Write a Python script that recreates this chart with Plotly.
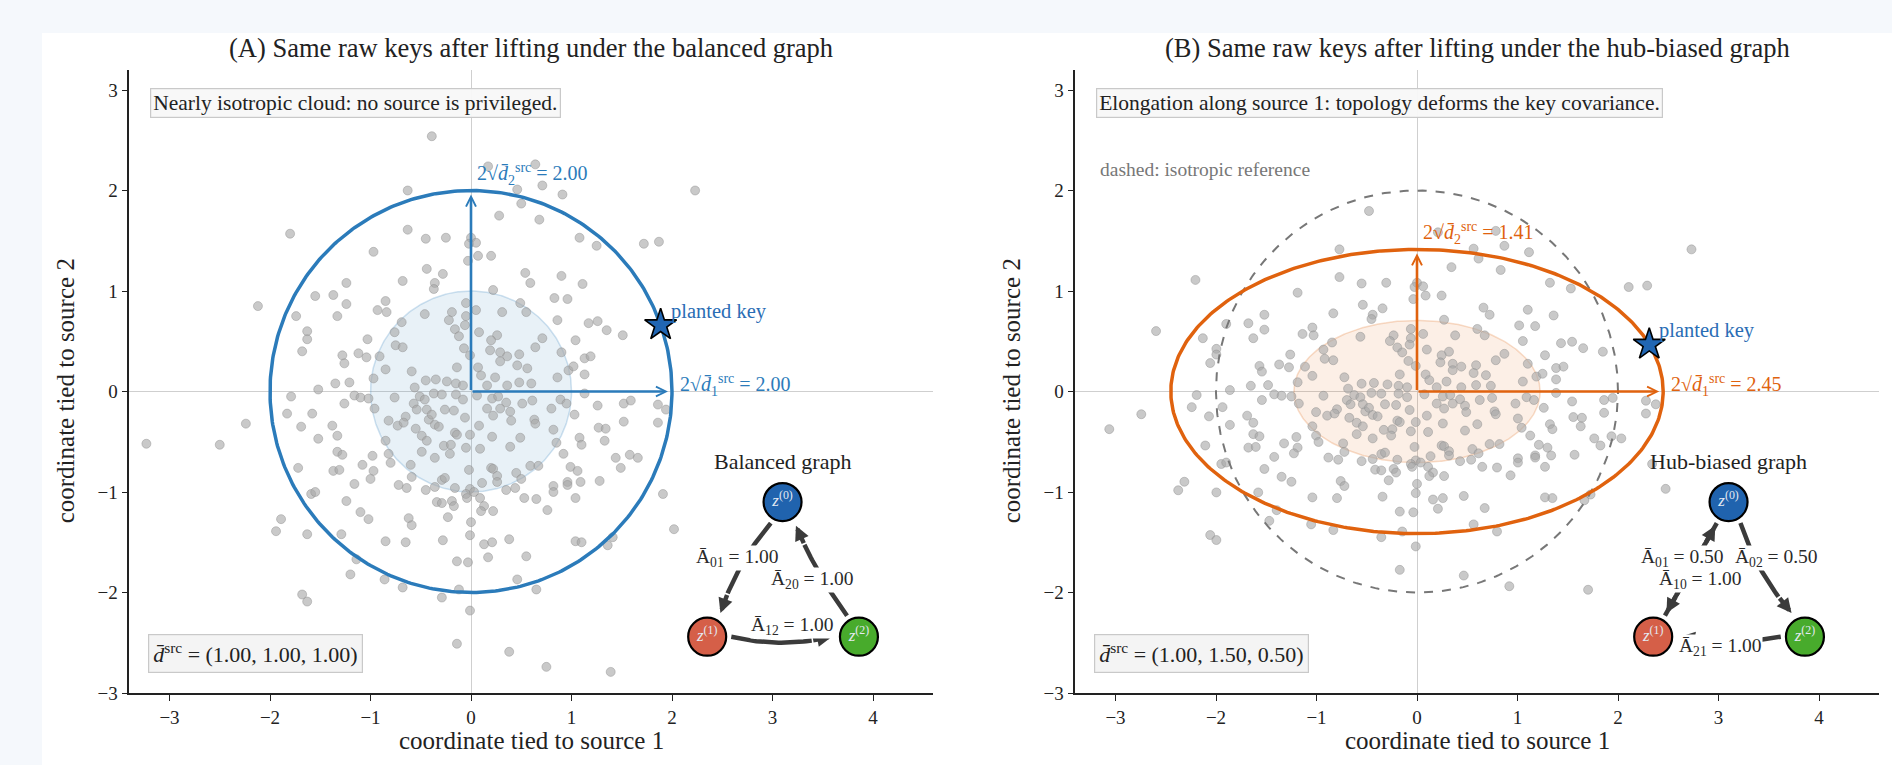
import numpy as np
import plotly.graph_objects as go

# ---------------- data ----------------
# raw keys (coordinate tied to source 1, coordinate tied to source 2) as shown under the balanced graph
raw_keys = [
    (-0.39, 2.54), (-0.63, 2.00), (-1.80, 1.57), (-0.63, 1.61), (-0.45, 1.52), (-0.97, 1.39), (-0.44, 1.22),
    (-0.68, 1.10), (-1.24, 1.08), (-1.55, 0.95), (-1.37, 0.96), (-1.24, 0.87), (-0.85, 0.90), (-0.93, 0.81),
    (-0.84, 0.79), (-2.12, 0.85), (-1.74, 0.75), (-1.33, 0.75), (-0.46, 0.77), (-0.69, 0.69), (-0.76, 0.59),
    (-1.63, 0.60), (-1.63, 0.52), (-1.03, 0.52), (-1.68, 0.40), (-0.75, 0.46), (-0.68, 0.44), (-1.28, 0.36),
    (-1.12, 0.38), (-1.04, 0.34), (-0.91, 0.35), (-1.26, 0.28), (-0.85, 0.22), (-0.59, 0.20), (-0.97, 0.13),
    (-1.35, 0.08), (-1.21, 0.09), (-1.52, 0.02), (-0.56, 0.04),
    (0.17, 2.24), (0.64, 2.26), (0.46, 2.01), (0.71, 2.05), (0.91, 1.96), (0.50, 1.87), (2.23, 2.00),
    (0.28, 1.75), (0.68, 1.71), (-0.25, 1.53), (0.00, 1.53), (-0.02, 1.47), (0.05, 1.48), (1.08, 1.53),
    (1.25, 1.45), (1.72, 1.47), (1.87, 1.49), (0.07, 1.35), (-0.03, 1.30), (0.20, 1.35), (-0.28, 1.17),
    (0.54, 1.18), (0.59, 1.08), (0.90, 1.15), (1.11, 1.07), (-0.36, 1.08), (-0.37, 1.02), (0.22, 1.01),
    (0.49, 0.88), (0.83, 0.93), (0.96, 0.92), (-0.05, 0.88), (0.05, 0.81), (-0.19, 0.79), (0.31, 0.79),
    (0.55, 0.79), (-0.05, 0.75), (-0.22, 0.71), (0.86, 0.71), (1.17, 0.68), (1.26, 0.70), (1.35, 0.61),
    (1.51, 0.56), (-0.16, 0.62), (-0.06, 0.66), (0.08, 0.59), (0.26, 0.56), (0.20, 0.51), (-0.12, 0.55),
    (0.71, 0.53), (1.04, 0.51), (-0.07, 0.43), (0.19, 0.41), (0.29, 0.39), (0.36, 0.35), (0.48, 0.37),
    (0.64, 0.44), (0.90, 0.39), (-0.01, 0.36), (-0.14, 0.24), (0.07, 0.24), (0.29, 0.30), (0.46, 0.26),
    (0.56, 0.23), (0.97, 0.21), (1.02, 0.25), (1.13, 0.33), (1.19, 0.35), (1.13, 0.17), (-0.24, 0.10),
    (-0.15, 0.08), (0.10, 0.16), (0.24, 0.14), (0.48, 0.09), (0.86, 0.14), (-0.08, 0.06), (0.16, 0.06),
    (0.36, 0.06), (0.60, 0.08), (-0.45, 0.11), (-0.35, 0.12),
    (-1.79, -0.05), (-1.26, -0.12), (-1.16, -0.04), (-1.10, -0.06), (-1.02, -0.07), (-0.76, -0.06),
    (-0.96, -0.17), (-0.51, -0.05), (-0.46, -0.08), (-0.57, -0.12), (-0.54, -0.18), (-0.65, -0.25),
    (-0.82, -0.29), (-0.73, -0.34), (-0.67, -0.31), (-0.42, -0.28), (-1.83, -0.22), (-1.58, -0.22),
    (-2.24, -0.32), (-1.69, -0.35), (-1.38, -0.34), (-1.52, -0.47), (-1.33, -0.44), (-0.55, -0.37),
    (-0.49, -0.44), (-0.44, -0.49), (-0.85, -0.49), (-3.23, -0.52), (-2.50, -0.53), (-1.33, -0.60),
    (-1.28, -0.63), (-0.98, -0.64), (-0.82, -0.62), (-0.49, -0.60), (-1.08, -0.73), (-0.80, -0.71),
    (-0.60, -0.73), (-1.72, -0.76), (-1.37, -0.79), (-1.31, -0.78), (-0.97, -0.79), (-1.00, -0.87),
    (-0.59, -0.85), (-1.16, -0.92), (-0.72, -0.93), (-0.64, -0.96), (-0.45, -0.98), (-1.59, -1.02),
    (-1.55, -1.00), (-1.24, -1.09), (-1.10, -1.20), (-1.02, -1.27), (-0.62, -1.26), (-0.59, -1.33),
    (-1.89, -1.27), (-1.94, -1.39), (-1.63, -1.42), (-1.29, -1.42), (-0.85, -1.49), (-0.65, -1.50),
    (-1.14, -1.67), (-1.20, -1.82), (-0.86, -1.87), (-0.68, -1.95), (-1.68, -2.02), (-1.63, -2.09),
    (-0.37, -0.02), (-0.29, -0.03), (-0.15, -0.03), (-0.08, -0.08), (0.06, -0.04), (0.21, -0.07),
    (0.27, -0.05), (0.35, -0.11), (0.51, -0.12), (0.61, -0.09), (0.89, -0.08), (0.95, -0.12), (1.13, -0.02),
    (1.26, -0.14), (1.52, -0.12), (1.59, -0.09), (1.86, -0.13), (1.94, -0.18), (-0.44, -0.18), (-0.26, -0.18),
    (-0.17, -0.19), (-0.39, -0.23), (-0.06, -0.26), (0.16, -0.17), (0.22, -0.24), (0.29, -0.17), (0.39, -0.20),
    (0.40, -0.29), (0.63, -0.28), (0.64, -0.32), (0.80, -0.17), (1.03, -0.23), (1.52, -0.30), (1.86, -0.31),
    (-0.36, -0.33), (-0.32, -0.35), (0.08, -0.34), (0.82, -0.38), (1.27, -0.36), (1.34, -0.37), (-0.16, -0.41),
    (-0.14, -0.43), (-0.01, -0.43), (0.21, -0.45), (0.49, -0.46), (1.08, -0.46), (-0.27, -0.54), (-0.20, -0.53),
    (-0.05, -0.56), (0.09, -0.57), (0.39, -0.55), (0.85, -0.51), (1.10, -0.53), (1.33, -0.49), (-0.21, -0.62),
    (-0.36, -0.66), (0.92, -0.62), (1.44, -0.66), (1.58, -0.63), (1.66, -0.66), (0.20, -0.76), (0.22, -0.77),
    (0.59, -0.74), (0.67, -0.74), (0.99, -0.75), (1.06, -0.79), (1.49, -0.76), (-0.02, -0.78), (0.26, -0.84),
    (0.45, -0.81), (-0.29, -0.88), (-0.26, -0.86), (0.26, -0.90), (0.11, -0.91), (0.50, -0.87), (0.96, -0.90),
    (0.96, -0.93), (1.09, -0.90), (1.28, -0.89), (-0.36, -0.95), (-0.16, -0.96), (-0.01, -0.97), (0.35, -0.98),
    (0.44, -0.96), (0.82, -0.94), (0.82, -1.00), (1.91, -1.02), (-0.05, -1.02), (0.03, -1.00), (-0.34, -1.10),
    (-0.29, -1.11), (-0.19, -1.09), (-0.17, -1.14), (-0.04, -1.06), (0.09, -1.06), (0.13, -1.14), (0.10, -1.19),
    (0.22, -1.19), (0.53, -1.06), (0.65, -1.07), (1.04, -1.06), (0.76, -1.18), (-0.23, -1.25), (0.00, -1.30),
    (-0.01, -1.43), (-0.28, -1.48), (0.13, -1.52), (0.21, -1.50), (0.38, -1.47), (1.04, -1.49), (1.10, -1.50),
    (1.36, -1.53), (1.41, -1.45), (2.02, -1.37), (0.17, -1.65), (0.55, -1.64), (-0.14, -1.69), (-0.03, -1.70),
    (0.46, -1.87), (0.65, -1.97), (-0.12, -1.97), (-0.29, -2.05), (-0.01, -2.18), (-0.14, -2.51), (0.38, -2.59),
    (0.75, -2.74), (1.39, -2.79),
]
raw_src1 = [p[0] for p in raw_keys]
raw_src2 = [p[1] for p in raw_keys]
planted_key = [1.887, 0.661]

d_balanced = [1.00, 1.00, 1.00]
d_hub = [1.00, 1.50, 0.50]

# directed edges (from, to, weight)
balanced_edges = [(0, 1, 1.00), (1, 2, 1.00), (2, 0, 1.00)]
hub_edges = [(0, 1, 0.50), (1, 0, 1.00), (0, 2, 0.50), (2, 1, 1.00)]

x_ticks = [-3, -2, -1, 0, 1, 2, 3, 4]
y_ticks = [-3, -2, -1, 0, 1, 2, 3]
panel_titles = ["(A) Same raw keys after lifting under the balanced graph",
                "(B) Same raw keys after lifting under the hub-biased graph"]
panel_notes = ["Nearly isotropic cloud: no source is privileged.",
               "Elongation along source 1: topology deforms the key covariance."]
graph_names = ["Balanced graph", "Hub-biased graph"]
x_label = "coordinate tied to source 1"
y_label = "coordinate tied to source 2"

# ---------------- layout / style ----------------
W, H = 1892, 765
FONT = "Liberation Serif"
X_RANGE = [-3.4, 4.6]
Y_RANGE = [-3.0, 3.2]
AX_LEFT = [129.3, 1075.3]
AX_WIDTH = 804.0
AX_TOP, AX_BOT = 69.9, 693.0
MAIN_COL = ["#2b7bba", "#e0620e"]
FILL_COL = ["rgba(43,123,186,0.11)", "rgba(224,98,14,0.10)"]
FILL_EDGE = ["rgba(43,123,186,0.22)", "rgba(224,98,14,0.22)"]
STAR_COL = "#2166b3"
KEY_TXT = "#2a6db5"
NODE_POS = {0: (3.10, -1.10), 1: (2.35, -2.44), 2: (3.86, -2.44)}
NODE_COL = {0: "#2063ae", 1: "#d55f48", 2: "#48ab2c"}
EDGE_BEND = [{(0, 1): 0.10, (1, 2): 0.12, (2, 0): -0.06},
             {(0, 1): 0.0, (1, 0): 0.0, (0, 2): 0.10, (2, 1): -0.10}]
EDGE_LABEL_POS = [{(0, 1): (2.65, -1.66), (1, 2): (3.20, -2.33), (2, 0): (3.40, -1.88)},
                  {(0, 1): (2.64, -1.66), (1, 0): (2.82, -1.88), (0, 2): (3.58, -1.66), (2, 1): (3.02, -2.54)}]
EDGE_COL = "#3b3b3b"
TXT = "#222222"

fig = go.Figure()
annotations = []
shapes = [dict(type="rect", xref="paper", yref="paper", x0=42 / W, x1=1.0, y0=0.0, y1=1 - 33 / H,
               fillcolor="white", line=dict(width=0), layer="below")]

th = np.linspace(0, 2 * np.pi, 400)

for k, (d, edges) in enumerate([(d_balanced, balanced_edges), (d_hub, hub_edges)]):
    xa, ya = ("x", "y") if k == 0 else ("x2", "y2")
    s1, s2 = np.sqrt(d[1]), np.sqrt(d[2])
    px = np.array(raw_src1) * s1
    py = np.array(raw_src2) * s2
    common = dict(xaxis=xa, yaxis=ya, hoverinfo="skip", showlegend=False)

    # 1-sigma shaded ellipse
    fig.add_trace(go.Scatter(x=s1 * np.cos(th), y=s2 * np.sin(th), mode="lines", fill="toself",
                             fillcolor=FILL_COL[k], line=dict(color=FILL_EDGE[k], width=1.5), **common))
    # key cloud
    fig.add_trace(go.Scatter(x=px, y=py, mode="markers",
                             marker=dict(size=9, color="rgba(168,168,168,0.62)",
                                         line=dict(color="rgba(140,140,140,0.55)", width=0.8)), **common))
    # isotropic dashed reference
    if k == 1:
        r1, r2 = 2 * np.sqrt(d_balanced[1]), 2 * np.sqrt(d_balanced[2])
        fig.add_trace(go.Scatter(x=r1 * np.cos(th), y=r2 * np.sin(th), mode="lines",
                                 line=dict(color="#777777", width=2, dash="dash"), **common))
        annotations.append(dict(x=-3.17, y=2.21, xref=xa, yref=ya, text="dashed: isotropic reference",
                                showarrow=False, xanchor="left", yanchor="middle",
                                font=dict(family=FONT, size=19.5, color="#777777")))
    # 2-sigma ellipse
    fig.add_trace(go.Scatter(x=2 * s1 * np.cos(th), y=2 * s2 * np.sin(th), mode="lines",
                             line=dict(color=MAIN_COL[k], width=3.5), **common))
    # axis arrows
    for (tx, ty) in [(2 * s1, 0.0), (0.0, 2 * s2)]:
        annotations.append(dict(x=tx, y=ty, ax=0, ay=0, xref=xa, yref=ya, axref=xa, ayref=ya, text="",
                                showarrow=True, arrowhead=5, arrowsize=0.75, arrowwidth=2.6,
                                arrowcolor=MAIN_COL[k], standoff=4))
    annotations.append(dict(x=0.04, y=2 * s2 + 0.16, xref=xa, yref=ya, showarrow=False,
                            xanchor="left", yanchor="middle",
                            text=f"2√<i>d̄</i><sub>2</sub><sup>src</sup> = {2 * s2:.2f}",
                            font=dict(family=FONT, size=20, color=MAIN_COL[k])))
    annotations.append(dict(x=2 * s1 + 0.06, y=0.06, xref=xa, yref=ya, showarrow=False,
                            xanchor="left", yanchor="middle",
                            text=f"2√<i>d̄</i><sub>1</sub><sup>src</sup> = {2 * s1:.2f}",
                            font=dict(family=FONT, size=20, color=MAIN_COL[k])))
    # planted key
    kx, ky = planted_key[0] * s1, planted_key[1] * s2
    fig.add_trace(go.Scatter(x=[kx], y=[ky], mode="markers",
                             marker=dict(symbol="star", size=24, color=STAR_COL,
                                         line=dict(color="black", width=1.6)), **common))
    annotations.append(dict(x=kx + 0.08, y=ky + 0.14, xref=xa, yref=ya, text="planted key", showarrow=False,
                            xanchor="left", yanchor="middle", font=dict(family=FONT, size=20.5, color=KEY_TXT)))
    # text boxes
    annotations.append(dict(x=-3.19, y=2.87, xref=xa, yref=ya, text=panel_notes[k], showarrow=False,
                            xanchor="left", yanchor="middle", bgcolor="rgba(248,248,248,0.95)",
                            bordercolor="#c9c9c9", borderwidth=1.2, borderpad=2,
                            font=dict(family=FONT, size=21.5, color=TXT)))
    annotations.append(dict(x=-3.21, y=-2.61, xref=xa, yref=ya, showarrow=False,
                            text="<i>d̄</i><sup>src</sup> = (" + ", ".join(f"{v:.2f}" for v in d) + ")",
                            xanchor="left", yanchor="middle", bgcolor="rgba(243,243,243,0.95)",
                            bordercolor="#c9c9c9", borderwidth=1.2, borderpad=4,
                            font=dict(family=FONT, size=22, color=TXT)))

    # ---- graph inset ----
    annotations.append(dict(x=NODE_POS[0][0], y=-0.70, xref=xa, yref=ya, text=graph_names[k], showarrow=False,
                            xanchor="center", yanchor="middle", font=dict(family=FONT, size=22, color=TXT)))
    for (i, j, w) in edges:
        p0 = np.array(NODE_POS[i]); p2 = np.array(NODE_POS[j])
        u = (p2 - p0) / np.linalg.norm(p2 - p0)
        s = p0 + u * 0.24
        e = p2 - u * 0.27
        L = np.linalg.norm(e - s)
        perp = np.array([u[1], -u[0]])
        c = (s + e) / 2 + EDGE_BEND[k][(i, j)] * L * perp
        t = np.linspace(0, 0.8, 30)[:, None]
        curve = (1 - t) ** 2 * s + 2 * (1 - t) * t * c + t ** 2 * e
        fig.add_trace(go.Scatter(x=curve[:, 0], y=curve[:, 1], mode="lines",
                                 line=dict(color=EDGE_COL, width=4.5), **common))
        annotations.append(dict(x=e[0], y=e[1], ax=curve[-1, 0], ay=curve[-1, 1], xref=xa, yref=ya,
                                axref=xa, ayref=ya, text="", showarrow=True, arrowhead=2, arrowsize=0.65,
                                arrowwidth=4.5, arrowcolor=EDGE_COL, standoff=0))
        lx, ly = EDGE_LABEL_POS[k][(i, j)]
        annotations.append(dict(x=lx, y=ly, xref=xa, yref=ya, showarrow=False, bgcolor="white", borderpad=0,
                                text=f"Ā<sub>{i}{j}</sub> = {w:.2f}",
                                font=dict(family=FONT, size=19.5, color="#2a2a2a")))
    fig.add_trace(go.Scatter(x=[NODE_POS[n][0] for n in range(3)], y=[NODE_POS[n][1] for n in range(3)],
                             mode="markers+text", text=[f"<i>z</i><sup>({n})</sup>" for n in range(3)],
                             textposition="middle center",
                             textfont=dict(family=FONT, size=17, color="#e4e9f2"),
                             marker=dict(size=38, color=[NODE_COL[n] for n in range(3)],
                                         line=dict(color="black", width=2.2)), **common))

    # titles and axis labels
    cx = (AX_LEFT[k] + AX_WIDTH / 2) / W
    annotations.append(dict(x=cx, y=1 - 48 / H, xref="paper", yref="paper", text=panel_titles[k],
                            showarrow=False, xanchor="center", yanchor="middle",
                            font=dict(family=FONT, size=26.5, color=TXT)))
    annotations.append(dict(x=cx, y=1 - 740 / H, xref="paper", yref="paper", text=x_label,
                            showarrow=False, xanchor="center", yanchor="middle",
                            font=dict(family=FONT, size=25, color=TXT)))
    annotations.append(dict(x=(AX_LEFT[k] - 63) / W, y=1 - 391 / H, xref="paper", yref="paper", text=y_label,
                            showarrow=False, xanchor="center", yanchor="middle", textangle=-90,
                            font=dict(family=FONT, size=25, color=TXT)))


def xaxis(k):
    return dict(domain=[AX_LEFT[k] / W, (AX_LEFT[k] + AX_WIDTH) / W], range=X_RANGE, tickvals=x_ticks,
                anchor="y" if k == 0 else "y2", ticks="outside", ticklen=6, tickwidth=1.3, tickcolor="#222",
                showline=True, linecolor="#222", linewidth=1.6, showgrid=False, zeroline=True,
                zerolinecolor="#cfcfcf", zerolinewidth=1.3, automargin=False, fixedrange=True,
                tickfont=dict(family=FONT, size=19, color=TXT))


def yaxis(k):
    return dict(domain=[1 - AX_BOT / H, 1 - AX_TOP / H], range=Y_RANGE, tickvals=y_ticks,
                anchor="x" if k == 0 else "x2", ticks="outside", ticklen=6, tickwidth=1.3, tickcolor="#222",
                showline=True, linecolor="#222", linewidth=1.6, showgrid=False, zeroline=True,
                zerolinecolor="#cfcfcf", zerolinewidth=1.3, automargin=False, fixedrange=True,
                tickfont=dict(family=FONT, size=19, color=TXT))


fig.update_layout(width=W, height=H, autosize=False, margin=dict(l=0, r=0, t=0, b=0),
                  paper_bgcolor="#f5f8fc", plot_bgcolor="white",
                  xaxis=xaxis(0), yaxis=yaxis(0), xaxis2=xaxis(1), yaxis2=yaxis(1),
                  annotations=annotations, shapes=shapes, showlegend=False)

fig.write_html("out.html", config={"displayModeBar": False},
               post_script="document.body.style.margin='0px';document.body.style.overflow='hidden';")
